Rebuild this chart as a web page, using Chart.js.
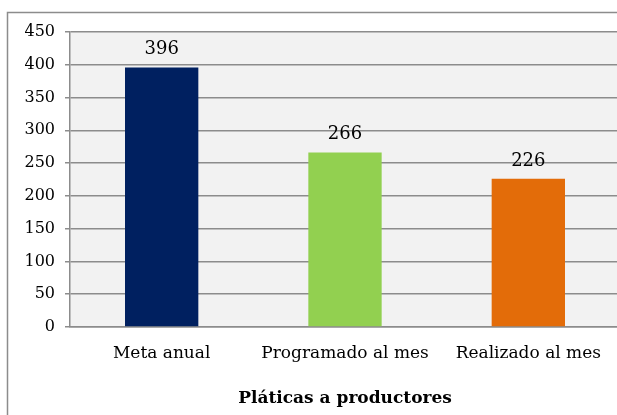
<!DOCTYPE html>
<html>
<head>
<meta charset="utf-8">
<script src="https://cdn.jsdelivr.net/npm/chart.js"></script>
<style>
  html, body { margin: 0; padding: 0; background: #fff; overflow: hidden; }
  #wrap { width: 617px; height: 415px; overflow: hidden; }
  #chartBar { display: block; }
</style>
</head>
<body>
<div id="wrap">
  <canvas id="chartBar" width="630" height="415"></canvas>
</div>
<script>
const categories = ['Meta anual', 'Programado al mes', 'Realizado al mes'];
const values = [396, 266, 226];
const barColors = ['#002060', '#92d050', '#e36c09'];
const yTicks = [0, 50, 100, 150, 200, 250, 300, 350, 400, 450];
const xTitle = 'Pláticas a productores';

const FONT = "'DejaVu Serif', serif";

// gray plot background + outer frame (only left/top edges are in view)
const frame = {
  id: 'frame',
  beforeDraw(chart) {
    const { ctx, chartArea: a } = chart;
    ctx.save();
    ctx.fillStyle = '#f2f2f2';
    ctx.fillRect(a.left, a.top, a.right - a.left, a.bottom - a.top);
    ctx.strokeStyle = '#8c8c8c';
    ctx.lineWidth = 1.5;
    ctx.beginPath();
    ctx.moveTo(7.5, 415);
    ctx.lineTo(7.5, 12.5);
    ctx.lineTo(630, 12.5);
    ctx.stroke();
    ctx.restore();
  }
};

// value labels above the bars
const valueLabels = {
  id: 'valueLabels',
  afterDatasetsDraw(chart) {
    const { ctx } = chart;
    const meta = chart.getDatasetMeta(0);
    ctx.save();
    ctx.font = '18px ' + FONT;
    ctx.fillStyle = '#000';
    ctx.textAlign = 'center';
    ctx.textBaseline = 'middle';
    meta.data.forEach((bar, i) => {
      ctx.fillText(String(values[i]), bar.x, bar.y - 18);
    });
    ctx.restore();
  }
};

const data = {
  labels: categories,
  datasets: [{
    data: values,
    backgroundColor: barColors,
    borderWidth: 0,
    barPercentage: 0.4,
    categoryPercentage: 1
  }]
};

const options = {
  responsive: false,
  animation: false,
  layout: { padding: { left: 0, top: 32, right: 10, bottom: 0 } },
  plugins: {
    legend: { display: false },
    tooltip: { enabled: false }
  },
  scales: {
    x: {
      grid: { display: false, drawTicks: false },
      border: { display: true, color: '#8c8c8c', width: 1.5 },
      ticks: { color: '#000', font: { family: FONT, size: 17 }, padding: 16, maxRotation: 0 },
      title: {
        display: true,
        text: xTitle,
        color: '#000',
        font: { family: FONT, size: 17, weight: 'bold' },
        padding: { top: 0, bottom: 6 }
      },
      afterFit(scale) { scale.height = 88; }
    },
    y: {
      min: 0,
      max: 450,
      afterBuildTicks(scale) { scale.ticks = yTicks.map(v => ({ value: v })); },
      grid: { color: '#8c8c8c', lineWidth: 1.5, tickLength: 5, drawTicks: true },
      border: { display: true, color: '#8c8c8c', width: 1.5 },
      ticks: { color: '#000', font: { family: FONT, size: 16 }, padding: 10 },
      afterFit(scale) { scale.width = 70; }
    }
  }
};

new Chart(document.getElementById('chartBar'), {
  type: 'bar',
  data: data,
  options: options,
  plugins: [frame, valueLabels]
});
</script>
</body>
</html>
